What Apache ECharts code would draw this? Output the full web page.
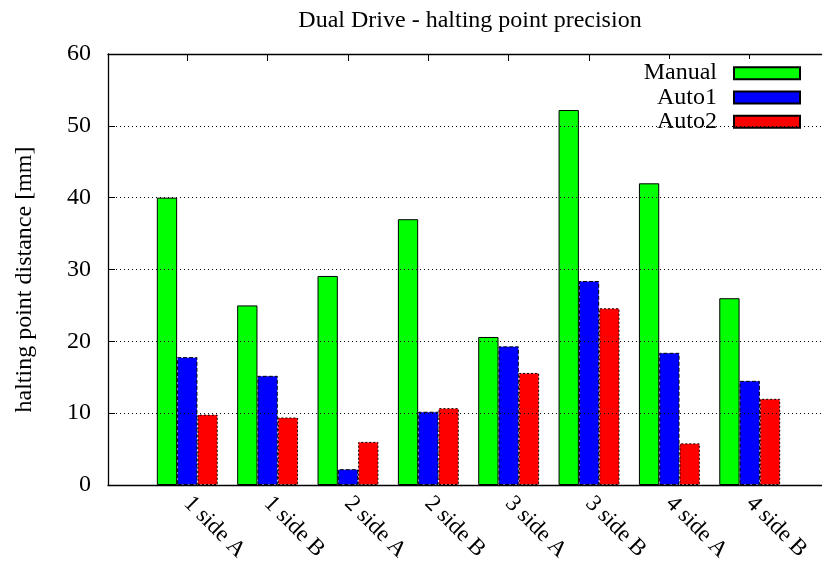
<!DOCTYPE html>
<html>
<head>
<meta charset="utf-8">
<script src="https://cdn.jsdelivr.net/npm/echarts@6/dist/echarts.min.js"></script>
<style>
  html, body { margin: 0; padding: 0; background: #fff; overflow: hidden; }
  #chart { width: 822px; height: 567px; }
</style>
</head>
<body>
<div id="chart"></div>
<script>
// Halting point distance per drive side, for manual and two automatic runs
const categories = ['1 side A', '1 side B', '2 side A', '2 side B', '3 side A', '3 side B', '4 side A', '4 side B'];
const manual = [40.0, 25.0, 29.1, 37.0, 20.6, 52.2, 42.0, 26.0];
const auto1  = [17.8, 15.2, 2.2, 10.2, 19.3, 28.4, 18.4, 14.5];
const auto2  = [9.8, 9.4, 6.0, 10.7, 15.6, 24.6, 5.8, 12.0];
const yTicks = { min: 0, max: 60, step: 10 };

const FONT = '"Liberation Serif", "DejaVu Serif", serif';
const FS = 24;
const chart = echarts.init(document.getElementById('chart'), null, { renderer: 'canvas' });

const plotTop = 54, plotBottom = 82;

function barSeries(name, values, color, dash) {
  return {
    name: name,
    type: 'bar',
    xAxisIndex: 2,
    yAxisIndex: 1,
    data: values,
    barWidth: 20.3,
    barGap: '0%',
    itemStyle: {
      color: color,
      borderColor: '#000',
      borderWidth: 1,
      borderType: dash
    },
    emphasis: { disabled: true }
  };
}

chart.setOption({
  animation: false,
  backgroundColor: '#fff',
  title: {
    text: 'Dual Drive - halting point precision',
    left: 465, textAlign: 'center',
    top: 4,
    textStyle: { fontFamily: FONT, fontSize: FS, fontWeight: 'normal', color: '#000' }
  },
  legend: {
    orient: 'vertical',
    right: 9,
    top: 59,
    align: 'right',
    icon: 'rect',
    itemWidth: 66,
    itemHeight: 12,
    itemGap: 0,
    padding: [2, 12, 4, 12],
    backgroundColor: '#fff',
    textStyle: { fontFamily: FONT, fontSize: FS, color: '#000', lineHeight: 24.3, padding: [0, 12, 0, 0] },
    data: ['Manual', 'Auto1', 'Auto2']
  },
  grid: [
    // plot frame; its right edge runs past the canvas
    { left: 108, width: 740, top: plotTop, bottom: plotBottom, outerBoundsMode: 'none', containLabel: false },
    // bar groups
    { left: 147.1, right: 32.1, top: plotTop, bottom: plotBottom, outerBoundsMode: 'none', containLabel: false }
  ],
  xAxis: [
    { gridIndex: 0, type: 'value', min: 0, max: 1, position: 'bottom',
      axisLine: { show: true, lineStyle: { color: '#000', width: 1.3 } },
      axisTick: { show: false }, axisLabel: { show: false }, splitLine: { show: false }, z: 10 },
    { gridIndex: 0, type: 'value', min: 0, max: 1, position: 'top',
      axisLine: { show: true, lineStyle: { color: '#000', width: 1.3 } },
      axisTick: { show: false }, axisLabel: { show: false }, splitLine: { show: false }, z: 10 },
    { gridIndex: 1, type: 'category', data: categories, position: 'bottom',
      axisLine: { show: false }, axisTick: { show: false },
      axisLabel: { rotate: -45, margin: 15, fontFamily: FONT, fontSize: 23, color: '#000', interval: 0 } },
    { gridIndex: 1, type: 'category', data: categories, position: 'top',
      axisLine: { show: false },
      axisTick: { show: true, inside: true, alignWithLabel: true, length: 7, lineStyle: { color: '#000', width: 1 } },
      axisLabel: { show: false } }
  ],
  yAxis: [
    { gridIndex: 0, type: 'value', min: yTicks.min, max: yTicks.max, interval: yTicks.step,
      name: 'halting point distance [mm]', nameLocation: 'middle', nameGap: 71, nameRotate: 90,
      nameTextStyle: { fontFamily: FONT, fontSize: FS, color: '#000', padding: [0, 20, 0, 0] },
      axisLine: { show: true, lineStyle: { color: '#000', width: 1.3 } },
      axisTick: { show: true, inside: true, length: 7, lineStyle: { color: '#000' } },
      axisLabel: { fontFamily: FONT, fontSize: FS, color: '#000', margin: 17 },
      splitLine: { show: true, lineStyle: { color: '#000', type: [1, 3], width: 1 } },
      z: 10 },
    { gridIndex: 1, type: 'value', min: yTicks.min, max: yTicks.max, interval: yTicks.step,
      show: false, splitLine: { show: false } }
  ],
  series: [
    barSeries('Manual', manual, '#00ff00', 'solid'),
    barSeries('Auto1', auto1, '#0000ff', [4, 2]),
    barSeries('Auto2', auto2, '#ff0000', [2, 2])
  ]
});
</script>
</body>
</html>
